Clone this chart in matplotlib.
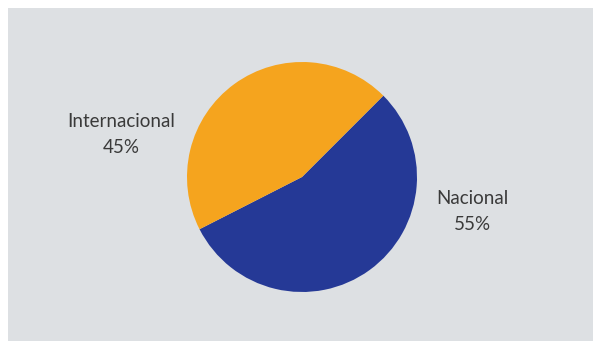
import matplotlib.pyplot as plt

# Distribución de ventas
categorias = ["Nacional", "Internacional"]
porcentajes = [55, 45]
colores = ["#253996", "#f5a41e"]

W, H = 593, 341
fig = plt.figure(figsize=(W / 100, H / 100), dpi=100)
fig.patch.set_facecolor("white")

# Panel gris de fondo
fondo = fig.add_axes([8 / W, 0, (W - 8) / W, (H - 8) / H])
fondo.set_facecolor("#dde0e3")
fondo.set_xticks([]); fondo.set_yticks([])
for s in fondo.spines.values():
    s.set_visible(False)

# Ejes del pastel (centro 302,177 px, radio 115 px)
cx, cy, r = 302, H - 177, 115
ax = fig.add_axes([(cx - r) / W, (cy - r) / H, 2 * r / W, 2 * r / H])
ax.pie(porcentajes, colors=colores, startangle=45, counterclock=False,
       radius=1, wedgeprops=dict(linewidth=0))
ax.set_xlim(-1, 1); ax.set_ylim(-1, 1)
ax.set_aspect("equal")
ax.axis("off")

# Etiquetas
posiciones = [(1.48, -0.30), (-1.57, 0.37)]
for (x, y), cat, p in zip(posiciones, categorias, porcentajes):
    ax.text(x, y, f"{cat}\n{p}%", ha="center", va="center", fontsize=13.5,
            family="Lato", color="#3a3a3a", linespacing=1.65,
            clip_on=False)

fig.savefig("out.png", dpi=100)
